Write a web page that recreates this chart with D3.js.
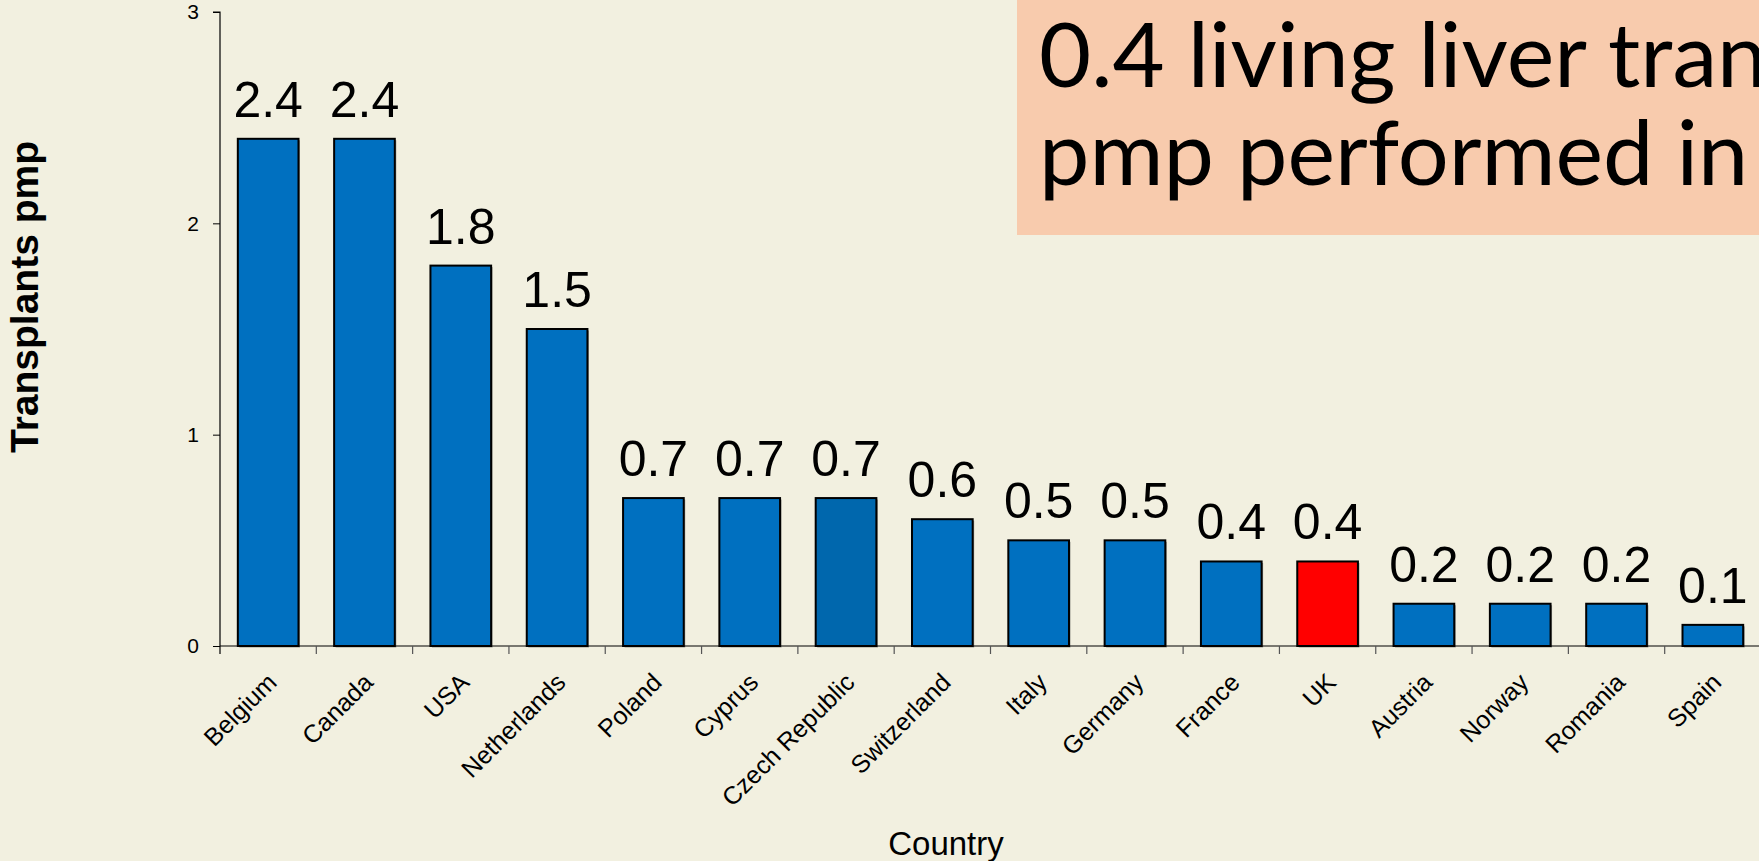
<!DOCTYPE html>
<html>
<head>
<meta charset="utf-8">
<script src="https://cdn.jsdelivr.net/npm/d3@7"></script>
<style>
  html, body { margin: 0; padding: 0; background: #f2f0e0; overflow: hidden; }
  svg { display: block; font-family: "Liberation Sans", Arial, sans-serif; }
</style>
</head>
<body>
<svg id="chart"></svg>
<script>
var width = 1759;
var height = 861;

// data
var countries = ["Belgium", "Canada", "USA", "Netherlands", "Poland", "Cyprus",
  "Czech Republic", "Switzerland", "Italy", "Germany", "France", "UK",
  "Austria", "Norway", "Romania", "Spain"];
var transplants = [2.4, 2.4, 1.8, 1.5, 0.7, 0.7, 0.7, 0.6, 0.5, 0.5, 0.4, 0.4, 0.2, 0.2, 0.2, 0.1];
var yTicks = [0, 1, 2, 3];
var titleLines = ["0.4 living liver transplants", "pmp performed in the UK"];

var barColor = function(c) {
  if (c == "UK") return "#ff0000";
  if (c == "Czech Republic") return "#0067ad";
  return "#0070c0";
};

var svg = d3.select("#chart").attr("width", width).attr("height", height);

svg.append("rect").attr("width", width).attr("height", height).attr("fill", "#f2f0e0");

var left = 220, axisY = 646, topY = 12;

var x = d3.scaleBand()
    .domain(countries)
    .range([left, 1761])
    .paddingInner(0.37)
    .paddingOuter(0.185);

var y = d3.scaleLinear().domain([0, 3]).range([axisY, topY]);

var data = countries.map(function(c, i) { return {country: c, value: transplants[i]}; });

// title box (text runs off the right edge, as on the slide)
svg.append("rect")
    .attr("x", 1017).attr("y", 0)
    .attr("width", width - 1017).attr("height", 235)
    .attr("fill", "#f8cbad");

svg.append("g").selectAll("text")
    .data(titleLines)
    .enter()
    .append("text")
      .attr("x", 1039)
      .attr("y", function(d, i) { return 87 + i * 98; })
      .style("font-family", "Lato, 'Open Sans', sans-serif")
      .style("font-size", "90px")
      .attr("fill", "#000")
      .text(function(d) { return d; });

// bars (with a faint shadow)
var bars = svg.append("g");
bars.selectAll(".shadow")
    .data(data)
    .enter()
    .append("rect")
      .attr("class", "shadow")
      .attr("x", function(d) { return x(d.country) + 1.5; })
      .attr("y", function(d) { return y(d.value) + 1.5; })
      .attr("width", x.bandwidth())
      .attr("height", function(d) { return axisY - y(d.value); })
      .attr("fill", "#9a9a90");

bars.selectAll(".bar")
    .data(data)
    .enter()
    .append("rect")
      .attr("class", "bar")
      .attr("x", function(d) { return x(d.country); })
      .attr("y", function(d) { return y(d.value); })
      .attr("width", x.bandwidth())
      .attr("height", function(d) { return axisY - y(d.value); })
      .attr("fill", function(d) { return barColor(d.country); })
      .attr("stroke", "#000")
      .attr("stroke-width", 2);

// value labels
svg.append("g").selectAll("text")
    .data(data)
    .enter()
    .append("text")
      .attr("x", function(d) { return x(d.country) + x.bandwidth() / 2; })
      .attr("y", function(d) { return y(d.value) - 22; })
      .attr("text-anchor", "middle")
      .style("font-size", "50px")
      .attr("fill", "#000")
      .text(function(d) { return d.value.toFixed(1); });

// y axis
var yAxis = svg.append("g")
    .attr("transform", "translate(" + left + ",0)")
    .call(d3.axisLeft(y).tickValues(yTicks).tickSize(7).tickPadding(14).tickFormat(d3.format("d")));
yAxis.select(".domain").attr("stroke", "#000").attr("stroke-width", 1.2).attr("d", "M0," + axisY + "V" + topY + "H-7");
yAxis.selectAll(".tick line").attr("stroke", "#000");
yAxis.selectAll(".tick text")
    .style("font-size", "21px")
    .style("font-family", "'Liberation Sans', Arial, sans-serif")
    .attr("fill", "#000");

// x axis line and boundary ticks
var step = x.step();
var bounds = countries.map(function(c) { return x(c) + x.bandwidth() / 2 - step / 2; });
svg.append("line")
    .attr("x1", left).attr("x2", width)
    .attr("y1", axisY).attr("y2", axisY)
    .attr("stroke", "#000").attr("stroke-width", 1.2);
svg.append("g").selectAll("line")
    .data(bounds)
    .enter()
    .append("line")
      .attr("x1", function(d) { return d; }).attr("x2", function(d) { return d; })
      .attr("y1", axisY).attr("y2", axisY + 8)
      .attr("stroke", function(d, i) { return i == 0 ? "#000" : "#555"; })
      .attr("stroke-width", 1.2);

// category labels
svg.append("g").selectAll("text")
    .data(countries)
    .enter()
    .append("text")
      .attr("transform", function(d) {
        return "translate(" + (x(d) + x.bandwidth() / 2 + 10) + "," + (axisY + 38) + ") rotate(-45)";
      })
      .attr("text-anchor", "end")
      .style("font-size", "25px")
      .attr("fill", "#000")
      .text(function(d) { return d; });

// axis titles
svg.append("text")
    .attr("transform", "translate(38,297) rotate(-90)")
    .attr("text-anchor", "middle")
    .style("font-size", "39px")
    .style("font-weight", "bold")
    .attr("fill", "#000")
    .text("Transplants pmp");

svg.append("text")
    .attr("x", 946).attr("y", 855)
    .attr("text-anchor", "middle")
    .style("font-size", "33px")
    .attr("fill", "#000")
    .text("Country");
</script>
</body>
</html>
